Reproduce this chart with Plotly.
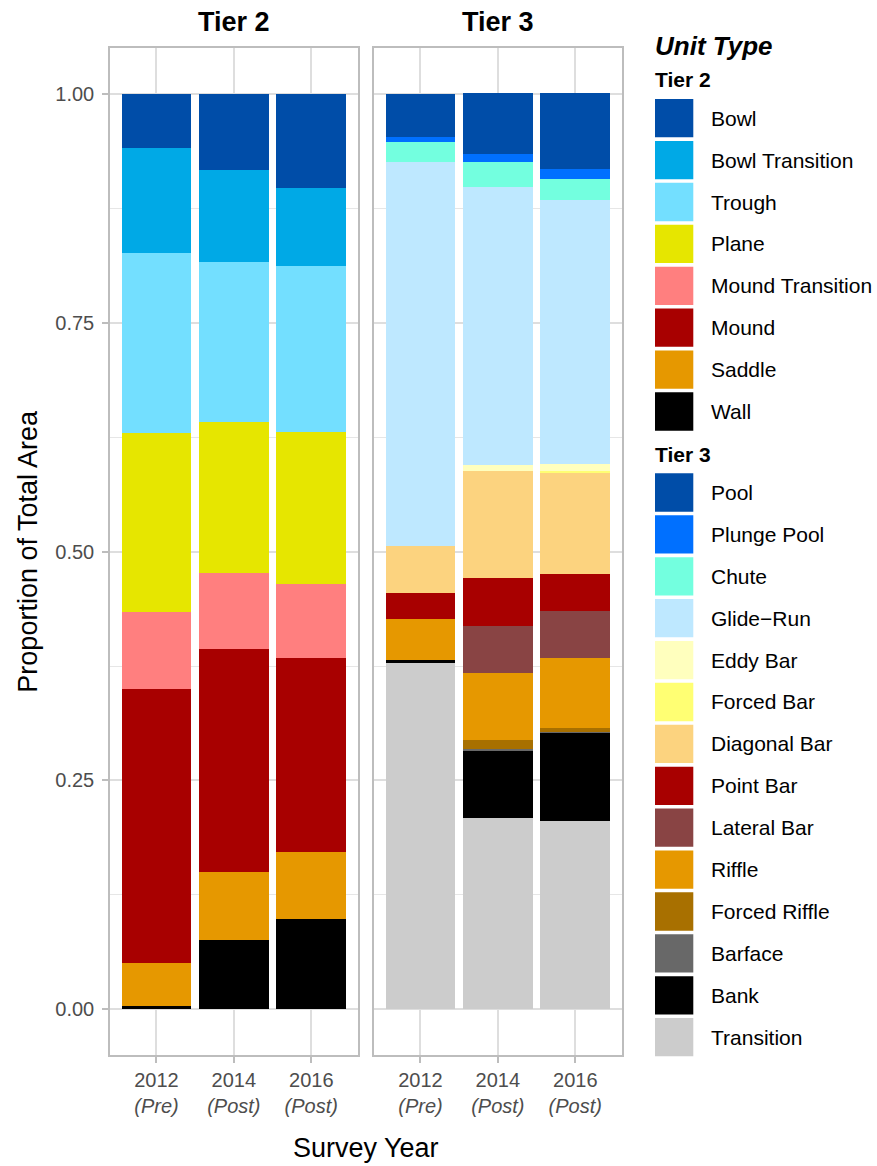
import plotly.graph_objects as go

# ---- data: proportion of total area per survey year ----
years = ["2012", "2014", "2016"]
periods = ["Pre", "Post", "Post"]

# Tier 2 units (legend / top-to-bottom stacking order)
tier2_units = ["Bowl", "Bowl Transition", "Trough", "Plane",
               "Mound Transition", "Mound", "Saddle", "Wall"]
tier2_colors = ["#004DA8", "#00A9E6", "#73DFFF", "#E6E600",
                "#FF7F7F", "#A80000", "#E69800", "#000000"]
t2_bowl = [0.059, 0.083, 0.103]
t2_bowl_transition = [0.115, 0.101, 0.085]
t2_trough = [0.197, 0.175, 0.181]
t2_plane = [0.195, 0.164, 0.167]
t2_mound_transition = [0.084, 0.084, 0.080]
t2_mound = [0.300, 0.243, 0.212]
t2_saddle = [0.047, 0.074, 0.074]
t2_wall = [0.003, 0.076, 0.098]

# Tier 3 units (legend / top-to-bottom stacking order)
tier3_units = ["Pool", "Plunge Pool", "Chute", "Glide\u2212Run", "Eddy Bar",
               "Forced Bar", "Diagonal Bar", "Point Bar", "Lateral Bar",
               "Riffle", "Forced Riffle", "Barface", "Bank", "Transition"]
tier3_colors = ["#004DA8", "#0070FF", "#73FFDF", "#BEE8FF", "#FFFFBE",
                "#FFFF73", "#FCD37F", "#A80000", "#894444",
                "#E69800", "#A87000", "#686868", "#000000", "#CCCCCC"]
t3_pool = [0.047, 0.067, 0.083]
t3_plunge_pool = [0.006, 0.008, 0.011]
t3_chute = [0.021, 0.028, 0.023]
t3_glide_run = [0.420, 0.304, 0.288]
t3_eddy_bar = [0.000, 0.006, 0.008]
t3_forced_bar = [0.000, 0.000, 0.002]
t3_diagonal_bar = [0.051, 0.117, 0.111]
t3_point_bar = [0.029, 0.052, 0.040]
t3_lateral_bar = [0.000, 0.052, 0.051]
t3_riffle = [0.045, 0.073, 0.077]
t3_forced_riffle = [0.000, 0.010, 0.004]
t3_barface = [0.000, 0.002, 0.001]
t3_bank = [0.003, 0.073, 0.097]
t3_transition = [0.378, 0.209, 0.205]

tier2_values = [t2_bowl, t2_bowl_transition, t2_trough, t2_plane,
                t2_mound_transition, t2_mound, t2_saddle, t2_wall]
tier3_values = [t3_pool, t3_plunge_pool, t3_chute, t3_glide_run, t3_eddy_bar,
                t3_forced_bar, t3_diagonal_bar, t3_point_bar, t3_lateral_bar,
                t3_riffle, t3_forced_riffle, t3_barface, t3_bank, t3_transition]

y_ticks = [0, 0.25, 0.5, 0.75, 1.0]

# ---- page geometry (pixels) ----
W, H = 877, 1166
FONT = "Liberation Sans, Arial, sans-serif"


def fx(px):
    return px / W


def fy(py):
    return 1 - py / H


PANEL_TOP, PANEL_BOTTOM = 48.2, 1055.1
P1 = (110, 357.7)
P2 = (374, 621.7)

fig = go.Figure()
xpos = [1, 2, 3]

# bars are stacked bottom-up, so add each tier in reverse legend order
for unit, color, vals in reversed(list(zip(tier2_units, tier2_colors, tier2_values))):
    fig.add_trace(go.Bar(x=xpos, y=vals, width=0.9, name=unit,
                         marker=dict(color=color, line=dict(width=0)),
                         xaxis="x", yaxis="y", showlegend=False))
for unit, color, vals in reversed(list(zip(tier3_units, tier3_colors, tier3_values))):
    fig.add_trace(go.Bar(x=xpos, y=vals, width=0.9, name=unit,
                         marker=dict(color=color, line=dict(width=0)),
                         xaxis="x2", yaxis="y2", showlegend=False))

tick_text = [f"{y}<br><i>({p})</i>" for y, p in zip(years, periods)]
GRID = "#DEDEDE"
BORDER = "#BDBDBD"
TICKFONT = dict(family=FONT, size=20, color="#4D4D4D")

xcommon = dict(range=[0.4, 3.6], tickmode="array", tickvals=xpos, ticktext=tick_text,
               ticks="outside", ticklen=6, tickcolor=BORDER, tickwidth=1.5,
               showline=True, mirror=True, linecolor=BORDER, linewidth=1.5,
               showgrid=True, gridcolor=GRID, gridwidth=1.5, zeroline=False,
               tickfont=TICKFONT, fixedrange=True)
ycommon = dict(range=[-0.05, 1.05], tickmode="array", tickvals=y_ticks,
               showline=True, mirror=True, linecolor=BORDER, linewidth=1.5,
               showgrid=True, gridcolor=GRID, gridwidth=1.5, zeroline=False,
               minor=dict(tickmode="array", tickvals=[0.125, 0.375, 0.625, 0.875],
                          showgrid=True, gridcolor="#E6E6E6", gridwidth=1, ticks=""),
               domain=[fy(PANEL_BOTTOM), fy(PANEL_TOP)], fixedrange=True)

fig.update_layout(
    width=W, height=H, margin=dict(l=0, r=0, t=0, b=0),
    paper_bgcolor="white", plot_bgcolor="white",
    barmode="stack", bargap=0, showlegend=False,
    font=dict(family=FONT, color="black"),
    xaxis=dict(domain=[fx(P1[0]), fx(P1[1])], anchor="y", **xcommon),
    xaxis2=dict(domain=[fx(P2[0]), fx(P2[1])], anchor="y2", **xcommon),
    yaxis=dict(anchor="x", ticks="outside", ticklen=6, tickcolor=BORDER, tickwidth=1.5,
               ticklabelstandoff=4,
               ticktext=[f"{v:.2f}" for v in y_ticks], tickfont=TICKFONT, **ycommon),
    yaxis2=dict(anchor="x2", matches="y", ticks="", showticklabels=False, **ycommon),
)

annotations = []
shapes = []

# facet strip titles
for label, (a, b) in (("Tier 2", P1), ("Tier 3", P2)):
    annotations.append(dict(text=f"<b>{label}</b>", x=fx((a + b) / 2), y=fy(22),
                            xref="paper", yref="paper", showarrow=False,
                            xanchor="center", yanchor="middle",
                            font=dict(family=FONT, size=27, color="black")))

# axis titles
annotations.append(dict(text="Survey Year", x=fx((P1[0] + P2[1]) / 2), y=fy(1148),
                        xref="paper", yref="paper", showarrow=False,
                        xanchor="center", yanchor="middle",
                        font=dict(family=FONT, size=27, color="black")))
annotations.append(dict(text="Proportion of Total Area", x=fx(28),
                        y=fy((PANEL_TOP + PANEL_BOTTOM) / 2),
                        xref="paper", yref="paper", showarrow=False, textangle=-90,
                        xanchor="center", yanchor="middle",
                        font=dict(family=FONT, size=27, color="black")))

# legend drawn as keys + labels
LEG_X = 655
KEY = 38.3
PITCH = 41.9
annotations.append(dict(text="<b><i>Unit Type</i></b>", x=fx(LEG_X - 2), y=fy(46),
                        xref="paper", yref="paper", showarrow=False,
                        xanchor="left", yanchor="middle",
                        font=dict(family=FONT, size=26, color="black")))


def legend_block(title, title_y, first_y, units, colors):
    annotations.append(dict(text=f"<b>{title}</b>", x=fx(LEG_X - 2), y=fy(title_y),
                            xref="paper", yref="paper", showarrow=False,
                            xanchor="left", yanchor="middle",
                            font=dict(family=FONT, size=21, color="black")))
    for i, (u, c) in enumerate(zip(units, colors)):
        cy = first_y + i * PITCH
        shapes.append(dict(type="rect", xref="paper", yref="paper",
                           x0=fx(LEG_X), x1=fx(LEG_X + KEY),
                           y0=fy(cy + KEY / 2), y1=fy(cy - KEY / 2),
                           fillcolor=c, line=dict(width=0)))
        annotations.append(dict(text=u, x=fx(709), y=fy(cy), xref="paper", yref="paper",
                                showarrow=False, xanchor="left", yanchor="middle",
                                font=dict(family=FONT, size=21, color="black")))


legend_block("Tier 2", 79.5, 118.2, tier2_units, tier2_colors)
legend_block("Tier 3", 455, 492.5, tier3_units, tier3_colors)

fig.update_layout(annotations=annotations, shapes=shapes)
fig.write_html("out.html")
